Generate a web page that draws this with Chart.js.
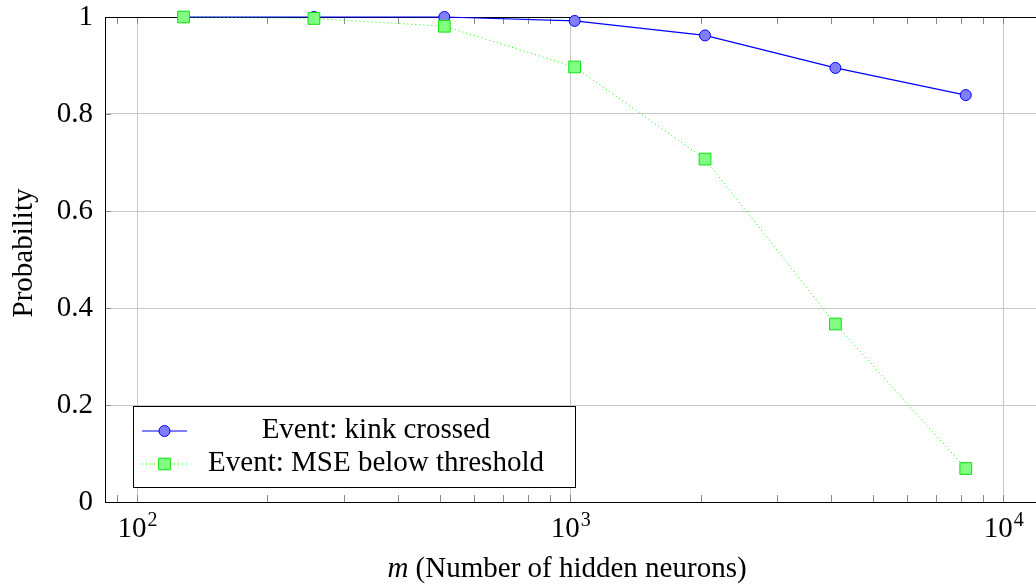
<!DOCTYPE html>
<html>
<head>
<meta charset="utf-8">
<title>Probability vs hidden neurons</title>
<script src="https://cdn.jsdelivr.net/npm/chart.js@4"></script>
<style>
  html, body { margin: 0; padding: 0; background: #fff; overflow: hidden; }
  #wrap { position: relative; width: 1060px; height: 584px; }
</style>
</head>
<body>
<div id="wrap"><canvas id="grafico"></canvas></div>
<script>
// --- dados ---
const mValues = [128, 256, 512, 1024, 2048, 4096, 8192];
const kinkCrossed = [1.0, 1.0, 1.0, 0.992, 0.962, 0.895, 0.839];
const mseBelow = [1.0, 0.997, 0.981, 0.897, 0.707, 0.367, 0.069];
const seriesLabels = ['Event: kink crossed', 'Event: MSE below threshold'];
const yTicks = [0, 0.2, 0.4, 0.6, 0.8, 1];
const xDecades = [2, 3, 4];
const xTitleItalic = 'm';
const xTitleRest = ' (Number of hidden neurons)';
const yTitle = 'Probability';

const FONT = '"Liberation Serif", "Times New Roman", serif';
const GRID = '#c8c8c8';
const TICK = '#8a8a8a';

function isDecade(v) {
    const l = Math.log10(v);
    return Math.abs(l - Math.round(l)) < 1e-9;
}

// marcador de uma série (usado na legenda)
function drawMarker(ctx, ds, x, y) {
    ctx.save();
    ctx.fillStyle = ds.pointBackgroundColor;
    ctx.strokeStyle = ds.pointBorderColor;
    ctx.lineWidth = ds.pointBorderWidth;
    ctx.setLineDash([]);
    Chart.helpers.drawPoint(ctx, {
        pointStyle: ds.pointStyle,
        radius: ds.pointRadius,
        rotation: 0,
        borderWidth: ds.pointBorderWidth
    }, x, y);
    ctx.restore();
}

// moldura + marcas de escala (estilo pgfplots)
const moldura = {
    id: 'moldura',
    beforeDatasetsDraw(chart) {
        const { ctx, chartArea: a, scales } = chart;
        ctx.save();
        ctx.lineWidth = 1;
        ctx.strokeStyle = TICK;
        ctx.beginPath();
        // x: todas as marcas (maiores e menores), para dentro, em baixo e em cima
        scales.x.ticks.forEach(t => {
            const px = Math.round(scales.x.getPixelForValue(t.value)) + 0.5;
            ctx.moveTo(px, a.bottom); ctx.lineTo(px, a.bottom - 7);
            ctx.moveTo(px, a.top); ctx.lineTo(px, a.top + 7);
        });
        // y: marcas maiores para dentro
        yTicks.forEach(v => {
            const py = Math.round(scales.y.getPixelForValue(v)) + 0.5;
            ctx.moveTo(a.left, py); ctx.lineTo(a.left + 6, py);
            ctx.moveTo(a.right, py); ctx.lineTo(a.right - 6, py);
        });
        ctx.stroke();
        ctx.strokeStyle = '#000';
        ctx.strokeRect(Math.round(a.left) + 0.5, Math.round(a.top) + 0.5,
                       Math.round(a.right - a.left), Math.round(a.bottom - a.top));
        ctx.restore();
    },
    afterDraw(chart) {
        const { ctx, scales } = chart;
        ctx.save();
        ctx.fillStyle = '#000';

        // rótulos do eixo x: 10^k
        xDecades.forEach(k => {
            const px = scales.x.getPixelForValue(Math.pow(10, k));
            ctx.font = '29px ' + FONT;
            const wBase = ctx.measureText('10').width;
            ctx.font = '20px ' + FONT;
            const wExp = ctx.measureText(String(k)).width;
            const x0 = px - (wBase + wExp) / 2;
            ctx.textAlign = 'left';
            ctx.textBaseline = 'alphabetic';
            ctx.font = '29px ' + FONT;
            ctx.fillText('10', x0, 537);
            ctx.font = '20px ' + FONT;
            ctx.fillText(String(k), x0 + wBase + 1, 526);
        });

        // título do eixo x
        ctx.font = 'italic 29px ' + FONT;
        const wI = ctx.measureText(xTitleItalic).width;
        ctx.font = '29px ' + FONT;
        const wR = ctx.measureText(xTitleRest).width;
        const tx = 567 - (wI + wR) / 2;
        ctx.textAlign = 'left';
        ctx.font = 'italic 29px ' + FONT;
        ctx.fillText(xTitleItalic, tx, 577);
        ctx.font = '29px ' + FONT;
        ctx.fillText(xTitleRest, tx + wI, 577);

        // título do eixo y
        ctx.save();
        ctx.translate(32, 253);
        ctx.rotate(-Math.PI / 2);
        ctx.textAlign = 'center';
        ctx.fillText(yTitle, 0, 0);
        ctx.restore();

        // legenda
        const lx = 133.5, ly = 406.5, lw = 442, lh = 81;
        ctx.fillStyle = '#fff';
        ctx.fillRect(lx, ly, lw, lh);
        ctx.strokeStyle = '#000';
        ctx.lineWidth = 1;
        ctx.strokeRect(lx, ly, lw, lh);
        const rows = [431, 464];
        chart.data.datasets.forEach((ds, i) => {
            const y = rows[i];
            ctx.save();
            ctx.strokeStyle = ds.borderColor;
            ctx.lineWidth = ds.borderWidth;
            ctx.setLineDash(ds.borderDash || []);
            ctx.beginPath();
            ctx.moveTo(142, y); ctx.lineTo(187, y);
            ctx.stroke();
            ctx.restore();
            drawMarker(ctx, ds, 164.5, y);
            ctx.fillStyle = '#000';
            ctx.font = '29px ' + FONT;
            ctx.textAlign = 'center';
            ctx.fillText(ds.label, 376, y + 7);
        });
        ctx.restore();
    }
};

const ctxGrafico = document.getElementById('grafico');

new Chart(ctxGrafico, {
    type: 'line',
    data: {
        datasets: [{
            label: seriesLabels[0],
            data: mValues.map((m, i) => ({ x: m, y: kinkCrossed[i] })),
            borderColor: '#0000ff',
            borderWidth: 1.2,
            pointStyle: 'circle',
            pointRadius: 5.5,
            pointBorderWidth: 1,
            pointBackgroundColor: '#8080ff',
            pointBorderColor: '#0000ff',
            tension: 0,
            clip: false,
            order: 1
        }, {
            label: seriesLabels[1],
            data: mValues.map((m, i) => ({ x: m, y: mseBelow[i] })),
            borderColor: '#00ff00',
            borderWidth: 1,
            borderDash: [1, 3],
            pointStyle: 'rect',
            pointRadius: 8.3,
            pointBorderWidth: 1,
            pointBackgroundColor: '#80ff80',
            pointBorderColor: '#11e011',
            tension: 0,
            clip: false,
            order: 0
        }]
    },
    options: {
        responsive: true,
        maintainAspectRatio: false,
        animation: false,
        devicePixelRatio: 1,
        layout: { padding: { left: 0, right: 16, top: 17, bottom: 0 } },
        plugins: { legend: { display: false }, tooltip: { enabled: false } },
        scales: {
            x: {
                type: 'logarithmic',
                min: 84.3,
                max: 12417,
                afterBuildTicks: scale => {
                    const ticks = [];
                    for (let k = 1; k <= 4; k++) {
                        for (let d = 1; d <= 9; d++) {
                            const v = d * Math.pow(10, k);
                            if (v >= scale.min && v <= scale.max) ticks.push({ value: v });
                        }
                    }
                    scale.ticks = ticks;
                },
                afterFit: scale => {
                    scale.height = 82;
                    scale.paddingLeft = 0;
                    scale.paddingRight = 0;
                },
                ticks: { display: false, autoSkip: false, maxRotation: 0 },
                grid: {
                    drawTicks: false,
                    color: c => (c.tick && isDecade(c.tick.value)) ? GRID : 'rgba(0,0,0,0)'
                },
                border: { display: false }
            },
            y: {
                min: 0,
                max: 1,
                afterBuildTicks: scale => { scale.ticks = yTicks.map(v => ({ value: v })); },
                afterFit: scale => {
                    scale.width = 105;
                    scale.paddingTop = 0;
                    scale.paddingBottom = 0;
                },
                ticks: {
                    padding: 12,
                    color: '#000',
                    font: { family: FONT, size: 29 },
                    callback: v => (v === 0 || v === 1) ? String(v) : v.toFixed(1)
                },
                grid: {
                    drawTicks: false,
                    color: c => (c.tick && c.tick.value > 0 && c.tick.value < 1) ? GRID : 'rgba(0,0,0,0)'
                },
                border: { display: false }
            }
        }
    },
    plugins: [moldura]
});
</script>
</body>
</html>
